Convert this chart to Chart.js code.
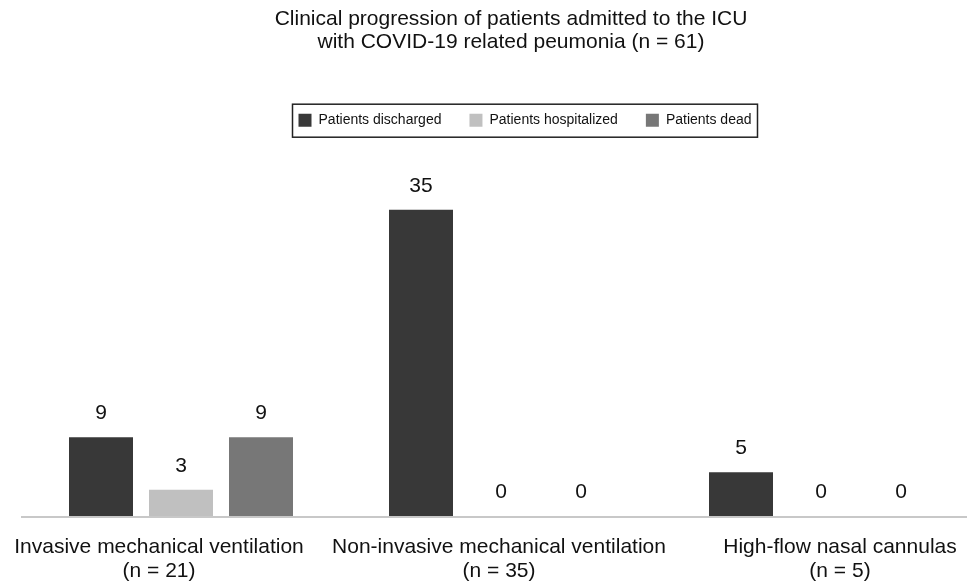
<!DOCTYPE html>
<html>
<head>
<meta charset="utf-8">
<script src="https://cdn.jsdelivr.net/npm/chart.js@4.4.1/dist/chart.umd.min.js"></script>
<style>
  html, body { margin: 0; padding: 0; background: #fff; overflow: hidden; }
  #wrap { width: 1020px; height: 585px; }
</style>
</head>
<body>
<div id="wrap"><canvas id="chart" width="1020" height="585"></canvas></div>
<script>
const categories = [
  ['Invasive mechanical ventilation', '(n = 21)'],
  ['Non-invasive mechanical ventilation', '(n = 35)'],
  ['High-flow nasal cannulas', '(n = 5)'],
];
const discharged = [9, 35, 5];
const hospitalized = [3, 0, 0];
const dead = [9, 0, 0];
const seriesNames = ['Patients discharged', 'Patients hospitalized', 'Patients dead'];
const seriesColors = ['#383838', '#c0c0c0', '#777777'];

const FONT = "'Liberation Sans', Arial, Helvetica, sans-serif";
const LEGEND_PAD = 28;
// small sideways nudges so the category names sit where the original put them
const labelNudge = [-22, -2, 19];

const extras = {
  id: 'extras',
  afterLayout(chart) {
    // the original has title and legend a bit right of the plot centre
    const t = chart.titleBlock;
    t.left += 10;
    t.right += 10;
    const lg = chart.legend;
    lg.left += 24;
    lg.right += 24;
  },
  afterDatasetsDraw(chart) {
    const { ctx, chartArea } = chart;
    ctx.save();
    ctx.strokeStyle = '#c8c8c8';
    ctx.lineWidth = 2;
    ctx.beginPath();
    ctx.moveTo(chartArea.left, chartArea.bottom + 1);
    ctx.lineTo(chartArea.right, chartArea.bottom + 1);
    ctx.stroke();

    // value over each bar
    ctx.fillStyle = '#111';
    ctx.font = '21px ' + FONT;
    ctx.textAlign = 'center';
    ctx.textBaseline = 'middle';
    chart.data.datasets.forEach((ds, i) => {
      chart.getDatasetMeta(i).data.forEach((bar, j) => {
        ctx.fillText(String(ds.data[j]), bar.x, bar.y - 24);
      });
    });

    // group names under the axis
    const x = chart.scales.x;
    categories.forEach((lines, i) => {
      const cx = x.getPixelForValue(i) + labelNudge[i];
      lines.forEach((t, k) => ctx.fillText(t, cx, chartArea.bottom + 31 + k * 24));
    });
    ctx.restore();
  },
  afterDraw(chart) {
    // box round the legend row
    const lg = chart.legend;
    if (!lg.lineWidths) return;
    const w = lg.lineWidths[0] - LEGEND_PAD;
    const cx = (lg.left + lg.right) / 2;
    const cy = lg.top + LEGEND_PAD + 7;
    const { ctx } = chart;
    ctx.save();
    ctx.strokeStyle = '#222';
    ctx.lineWidth = 1.5;
    ctx.strokeRect(cx - w / 2 - 6, cy - 16, w + 12, 33);
    ctx.restore();
  },
};

new Chart(document.getElementById('chart'), {
  type: 'bar',
  data: {
    labels: categories,
    datasets: [discharged, hospitalized, dead].map((d, i) => ({
      label: seriesNames[i],
      data: d,
      backgroundColor: seriesColors[i],
      borderWidth: 0,
      categoryPercentage: 0.75,
      barPercentage: 0.8,
    })),
  },
  options: {
    responsive: false,
    animation: false,
    devicePixelRatio: 1,
    layout: { padding: { left: 21, right: 39, bottom: 69, top: 0 } },
    plugins: {
      title: {
        display: true,
        text: ['Clinical progression of patients admitted to the ICU', 'with COVID-19 related peumonia (n = 61)'],
        color: '#111',
        font: { family: FONT, size: 21, weight: 'normal', lineHeight: 1.1 },
        padding: { top: 8, bottom: 31 },
      },
      legend: {
        display: true,
        labels: {
          color: '#111',
          font: { family: FONT, size: 14 },
          boxWidth: 13,
          boxHeight: 13,
          padding: LEGEND_PAD,
        },
      },
      tooltip: { enabled: false },
    },
    scales: {
      x: { display: false },
      y: { display: false, min: 0, max: 43.3 },
    },
  },
  plugins: [extras],
});
</script>
</body>
</html>
